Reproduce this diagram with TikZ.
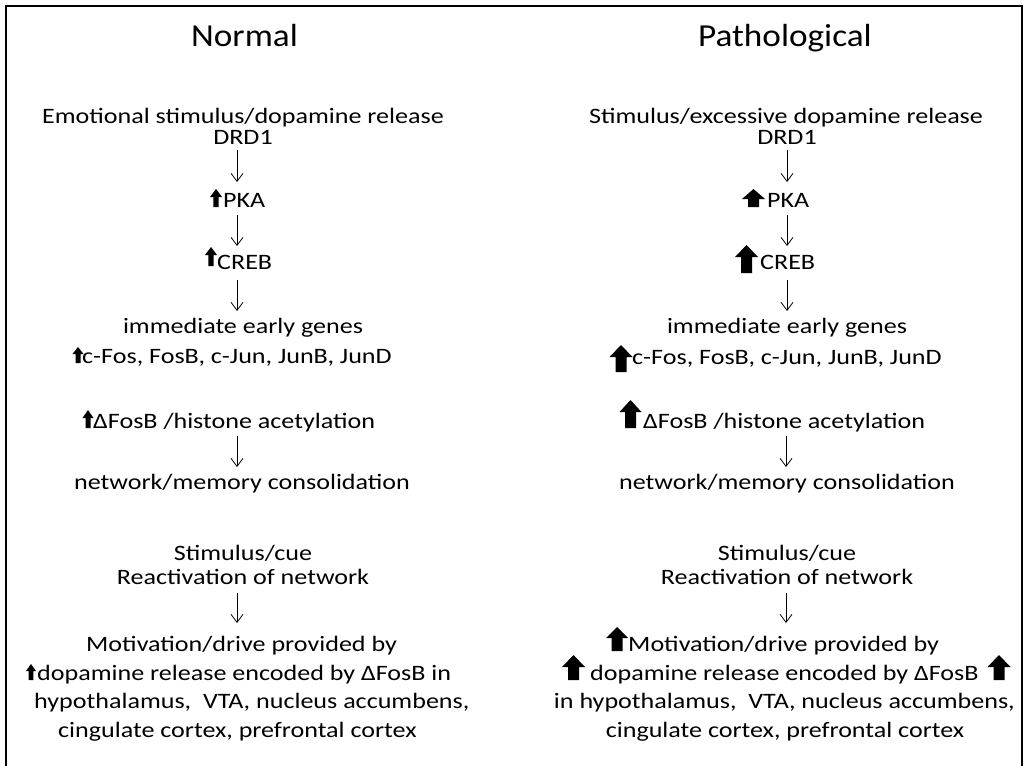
\documentclass[tikz,border=0pt]{standalone}
\usepackage{fontspec}
\setmainfont{Carlito}
\newfontfamily\bodyfont{Carlito}[FakeStretch=1.185]
\newfontfamily\titlefont{Carlito}[FakeStretch=1.1]
\usetikzlibrary{arrows.meta}
\newcommand\upblk[6]{% cx, top, bottom, head half width, shaft half width, head height
  \fill ({#1-#4},{#2+#6}) -- (#1,#2) -- ({#1+#4},{#2+#6}) -- ({#1+#5},{#2+#6}) -- ({#1+#5},#3) -- ({#1-#5},#3) -- ({#1-#5},{#2+#6}) -- cycle;}
\begin{document}
\begin{tikzpicture}[x=1pt,y=-1pt,
  txt/.style={inner sep=0pt,font=\bodyfont\fontsize{22}{26}\selectfont},
  ttl/.style={inner sep=0pt,font=\titlefont\fontsize{32}{38}\selectfont},
  flow/.style={line width=0.8pt,-{Straight Barb[length=8pt,width=12pt,line width=0.8pt]}}]
\useasboundingbox (0,0) rectangle (1024,765);
\fill[white] (0,0) rectangle (1024,765);
\draw[line width=2pt] (6,6) rectangle (1022,790);
% titles
\node[ttl,anchor=base] (tn) at (244.5,47) {Normal};
\node[ttl,anchor=base] (tp) at (785,47) {Pathological};
% ---------- left column ----------
\node[txt,anchor=base] (l1) at (243,123) {Emotional stimulus/dopamine release};
\node[txt,anchor=base] (l2) at (243,144) {DRD1};
\node[txt,anchor=base west] (l3) at (223,207) {PKA};
\node[txt,anchor=base west] (l4) at (217,269) {CREB};
\node[txt,anchor=base] (l5) at (243,333) {immediate early genes};
\node[txt,anchor=base west] (l6) at (82,363) {c-Fos, FosB, c-Jun, JunB, JunD};
\node[txt,anchor=base west] (l7) at (93,428) {ΔFosB /histone acetylation};
\node[txt,anchor=base] (l8) at (242,489) {network/memory consolidation};
\node[txt,anchor=base] (l9) at (243,560) {Stimulus/cue};
\node[txt,anchor=base] (l10) at (243,584) {Reactivation of network};
\node[txt,anchor=base west] (l11) at (86,651) {Motivation/drive provided by};
\node[txt,anchor=base west] (l12) at (37,680) {dopamine release encoded by ΔFosB in};
\node[txt,anchor=base west] (l13) at (34,708) {hypothalamus,\ \ VTA, nucleus accumbens,};
\node[txt,anchor=base west] (l14) at (58,737) {cingulate cortex, prefrontal cortex};
% small up arrows (left)
\upblk{216}{189}{207}{6}{2.6}{8}
\upblk{211}{247}{266}{6}{2.6}{8}
\upblk{78}{347}{363}{5.5}{2.5}{7}
\upblk{88}{410}{428}{5.5}{2.5}{8}
\upblk{31}{664}{680}{5}{2.3}{7}
% down arrows (left)
\coordinate (la1) at (237,150); \coordinate (la2) at (237,182);
\coordinate (lb1) at (237,215); \coordinate (lb2) at (237,246);
\coordinate (lc1) at (237,280); \coordinate (lc2) at (237,311);
\coordinate (ld1) at (237,436); \coordinate (ld2) at (237,467);
\coordinate (le1) at (237,593); \coordinate (le2) at (237,623);
\draw[flow] (la1) -- (la2);
\draw[flow] (lb1) -- (lb2);
\draw[flow] (lc1) -- (lc2);
\draw[flow] (ld1) -- (ld2);
\draw[flow] (le1) -- (le2);
% ---------- right column ----------
\node[txt,anchor=base] (r1) at (786,123) {Stimulus/excessive dopamine release};
\node[txt,anchor=base] (r2) at (787,144) {DRD1};
\node[txt,anchor=base west] (r3) at (767,207) {PKA};
\node[txt,anchor=base west] (r4) at (760,269) {CREB};
\node[txt,anchor=base] (r5) at (787,333) {immediate early genes};
\node[txt,anchor=base west] (r6) at (632,364) {c-Fos, FosB, c-Jun, JunB, JunD};
\node[txt,anchor=base west] (r7) at (643,428) {ΔFosB /histone acetylation};
\node[txt,anchor=base] (r8) at (787,489) {network/memory consolidation};
\node[txt,anchor=base] (r9) at (787,560) {Stimulus/cue};
\node[txt,anchor=base] (r10) at (787,584) {Reactivation of network};
\node[txt,anchor=base west] (r11) at (628,651) {Motivation/drive provided by};
\node[txt,anchor=base west] (r12) at (590,680) {dopamine release encoded by ΔFosB};
\node[txt,anchor=base east] (r13) at (1015,708) {in hypothalamus,\ \ VTA, nucleus accumbens,};
\node[txt,anchor=base] (r14) at (785,737) {cingulate cortex, prefrontal cortex};
% big up arrows (right)
\upblk{753.5}{189}{207}{11.5}{5.5}{10}
\upblk{746.5}{245}{273}{11.5}{5.5}{12}
\upblk{621}{345}{372}{11.5}{5.5}{12}
\upblk{630.5}{400}{428}{11}{5.5}{12}
\upblk{617}{627}{651}{11}{5.5}{11}
\upblk{573.5}{655}{680}{11.5}{5.5}{12}
\upblk{999}{655}{680}{11.5}{5.5}{12}
% down arrows (right)
\coordinate (ra1) at (787,150); \coordinate (ra2) at (787,182);
\coordinate (rb1) at (787,215); \coordinate (rb2) at (787,246);
\coordinate (rc1) at (787,280); \coordinate (rc2) at (787,311);
\coordinate (rd1) at (786,436); \coordinate (rd2) at (786,467);
\coordinate (re1) at (786,593); \coordinate (re2) at (786,623);
\draw[flow] (ra1) -- (ra2);
\draw[flow] (rb1) -- (rb2);
\draw[flow] (rc1) -- (rc2);
\draw[flow] (rd1) -- (rd2);
\draw[flow] (re1) -- (re2);
\end{tikzpicture}
\end{document}
